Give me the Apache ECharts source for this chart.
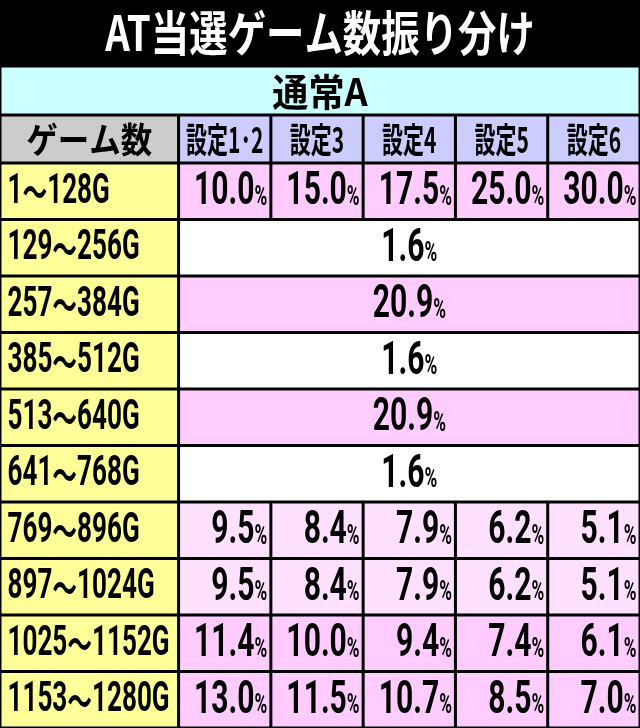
<!DOCTYPE html>
<html><head><meta charset="utf-8">
<script src="https://cdn.jsdelivr.net/npm/echarts@6/dist/echarts.min.js"></script>
<style>html,body{margin:0;padding:0;background:#000}#c{width:640px;height:728px}</style>
</head><body><div id="c"></div>
<script>
const title = 'AT当選ゲーム数振り分け';
const modeLabel = '通常A';
const headerLabel = 'ゲーム数';
const settings = ['設定1･2', '設定3', '設定4', '設定5', '設定6'];
const gameRanges = ['1～128G','129～256G','257～384G','385～512G','513～640G','641～768G','769～896G','897～1024G','1025～1152G','1153～1280G'];
// null entries = single merged value across all settings
const perSetting = [
  [10.0, 15.0, 17.5, 25.0, 30.0],
  null, null, null, null, null,
  [9.5, 8.4, 7.9, 6.2, 5.1],
  [9.5, 8.4, 7.9, 6.2, 5.1],
  [11.4, 10.0, 9.4, 7.4, 6.1],
  [13.0, 11.5, 10.7, 8.5, 7.0]
];
const merged = [null, 1.6, 20.9, 1.6, 20.9, 1.6, null, null, null, null];
const rowShade = ['pink','white','pink','white','pink','white','light','light','pink','pink'];

const FILL = {pink:'#ffccff', white:'#ffffff', light:'#ffe0ff', yellow:'#ffff99', lav:'#ccccff', gray:'#cccccc'};
const FIRST = 1.935; // width of first column in setting-column units
const edge = c => c === 0 ? 0 : FIRST + (c - 1);
const NUMF = '"Roboto","DejaVu Sans",sans-serif';
const JPF = '"Noto Sans CJK JP",sans-serif';

const bodyData = [];
gameRanges.forEach((g, r) => {
  bodyData.push([0, 1, r, g, 'yellow', 'label']);
  if (perSetting[r]) perSetting[r].forEach((v, i) => bodyData.push([i + 1, i + 2, r, v.toFixed(1), rowShade[r], 'num']));
  else bodyData.push([1, 6, r, merged[r].toFixed(1), rowShade[r], 'merged']);
});
const headData = [[0, 1, 0, headerLabel, 'gray', 'hlabel']];
settings.forEach((s, i) => headData.push([i + 1, i + 2, 0, s, 'lav', 'hset']));

const pctRich = {a:{fontFamily: NUMF, fontWeight:'bold', fontSize: 47, fill:'#000'}, b:{fontFamily: NUMF, fontWeight:'bold', fontSize: 27, fill:'#000', padding:[11,0,0,0]}};
function squeezed(x, y, style, sx) {
  return {type: 'text', x: x, y: y, scaleX: sx, style: Object.assign({x: 0, y: 0, verticalAlign: 'middle'}, style)};
}
function render(params, api) {
  const c0 = api.value(0), c1 = api.value(1), r = api.value(2);
  const item = (params.seriesIndex === 0 ? headData : bodyData)[params.dataIndex];
  const p0 = api.coord([edge(c0), r]);
  const p1 = api.coord([edge(c1), r]);
  const h = api.size([0, 1])[1];
  const x = p0[0] + 1.5, w = p1[0] - p0[0] - 3, y = p0[1] - h / 2 + 1.5, hh = h - 3;
  const kind = item[5];
  const cy = p0[1] + 1;
  let t;
  if (kind === 'label') {
    const s = item[3].split('～');
    t = squeezed(x + 6, cy, {text: '{a|' + s[0] + '}{c|～}{a|' + s[1] + '}', align: 'left', rich: {a:{fontFamily: NUMF, fontWeight:'bold', fontSize: 42, fill:'#000'}, c:{fontFamily: JPF, fontWeight:'bold', fontSize: 40, fill:'#000'}}}, 0.62);
  } else if (kind === 'num') t = squeezed(x + w - 2, cy, {text: '{a|' + item[3] + '}{b|%}', align: 'right', rich: pctRich}, 0.64);
  else if (kind === 'merged') t = squeezed(x + w / 2, cy, {text: '{a|' + item[3] + '}{b|%}', align: 'center', rich: pctRich}, 0.64);
  else if (kind === 'hlabel') t = squeezed(x + w / 2, cy, {text: item[3], align: 'center', fontFamily: JPF, fontWeight: 'bold', fontSize: 35, fill: '#000'}, 0.9);
  else t = squeezed(x + w / 2, cy, {text: item[3], align: 'center', fontFamily: JPF, fontWeight: 'bold', fontSize: 35, fill: '#000'}, 0.6);
  return {type: 'group', children: [
    {type: 'rect', shape: {x, y, width: w, height: hh}, style: {fill: FILL[item[4]]}}, t
  ]};
}

const chart = echarts.init(document.getElementById('c'));
const xAx = i => ({type: 'value', gridIndex: i, min: 0, max: edge(6), show: false});
chart.setOption({
  backgroundColor: '#000',
  animation: false,
  graphic: [
    {type: 'text', x: 320, y: 33, scaleX: 0.8, style: {x: 0, y: 0, text: title, align: 'center', verticalAlign: 'middle', fontFamily: JPF, fontWeight: 'bold', fontSize: 48, fill: '#fff'}},
    {type: 'rect', shape: {x: 1.5, y: 67.5, width: 637, height: 46}, style: {fill: '#ccffff'}},
    {type: 'text', x: 320, y: 92, scaleX: 0.95, style: {x: 0, y: 0, text: modeLabel, align: 'center', verticalAlign: 'middle', fontFamily: JPF, fontWeight: 'bold', fontSize: 38, fill: '#000'}}
  ],
  grid: [
    {left: 0, right: 0, top: 115, height: 48},
    {left: 0, right: 0, top: 163, bottom: 0}
  ],
  xAxis: [xAx(0), xAx(1)],
  yAxis: [
    {type: 'category', gridIndex: 0, data: ['h'], show: false},
    {type: 'category', gridIndex: 1, data: gameRanges, inverse: true, show: false}
  ],
  series: [
    {type: 'custom', xAxisIndex: 0, yAxisIndex: 0, renderItem: render, data: headData.map(d => d.slice(0, 3)), encode: {x: [0, 1], y: 2}},
    {type: 'custom', xAxisIndex: 1, yAxisIndex: 1, renderItem: render, data: bodyData.map(d => d.slice(0, 3)), encode: {x: [0, 1], y: 2}}
  ]
});
</script></body></html>
